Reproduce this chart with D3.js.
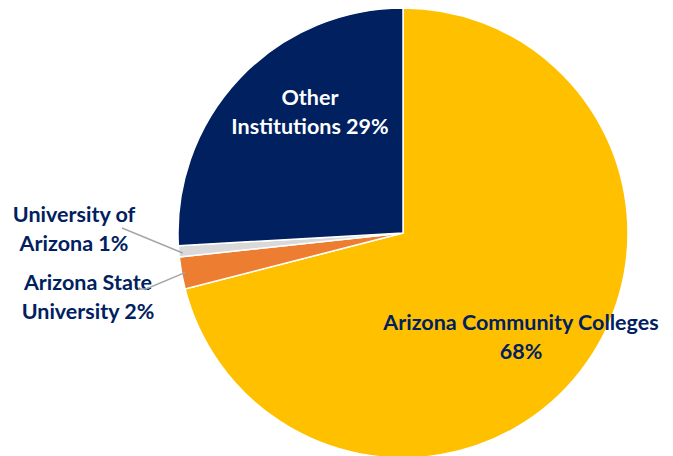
<!DOCTYPE html>
<html lang="en">
<head>
  <meta charset="UTF-8">
  <title>Enrollment Share</title>
  <script src="https://d3js.org/d3.v7.min.js"></script>
  <style>
    body { margin: 0; background: #fff; }
    .lbl { font-family: Lato, "Open Sans", sans-serif; font-weight: bold; font-size: 21.5px; text-anchor: middle; }
    .leader { fill: none; stroke: #a6a6a6; stroke-width: 1.5px; }
  </style>
</head>
<body>
  <svg width="673" height="456"></svg>
  <script>
    // slice order clockwise from 12 o'clock
    const names = ["Arizona Community Colleges", "Arizona State University", "University of Arizona", "Other Institutions"];
    const shares = [71.0, 2.3, 0.8, 25.9];   // slice sizes as drawn
    const labels = [["Arizona Community Colleges", "68%"], ["Arizona State", "University 2%"], ["University of", "Arizona 1%"], ["Other", "Institutions 29%"]];
    const colors = ["#ffc000", "#ed7d31", "#d9d9d9", "#002060"];
    const textColors = ["#002060", "#002060", "#002060", "#ffffff"];

    const cx = 403, cy = 233, r = 225;
    const svg = d3.select("svg");
    const g = svg.append("g").attr("transform", `translate(${cx},${cy})`);

    const pie = d3.pie().sort(null).value(d => d);
    const arcs = pie(shares);
    const arc = d3.arc().innerRadius(0).outerRadius(r);

    g.selectAll("path.slice")
      .data(arcs)
      .enter().append("path")
      .attr("class", "slice")
      .attr("d", arc)
      .attr("fill", (d, i) => colors[i])
      .attr("stroke", "#fff")
      .attr("stroke-width", 1.5);

    // label anchor points (centre of text block, page coords)
    const labelPos = [[521, 337], [88, 297], [74, 229], [310, 112]];
    const lineGap = 29;

    labels.forEach((lines, i) => {
      const t = svg.append("text")
        .attr("class", "lbl")
        .attr("fill", textColors[i])
        .attr("x", labelPos[i][0])
        .attr("y", labelPos[i][1] - lineGap / 2 + 7);
      lines.forEach((s, j) => {
        t.append("tspan")
          .attr("x", labelPos[i][0])
          .attr("dy", j === 0 ? 0 : lineGap)
          .text(s);
      });
    });

    // leader lines for the two thin slices
    const edge = d3.arc().innerRadius(r - 4).outerRadius(r - 4);
    const pASU = edge.centroid(arcs[1]);
    const pUA = edge.centroid(arcs[2]);
    svg.append("path").attr("class", "leader")
      .attr("d", d3.line()([[138, 289], [146, 289], [cx + pASU[0], cy + pASU[1]]]));
    svg.append("path").attr("class", "leader")
      .attr("d", d3.line()([[122, 228], [cx + pUA[0], cy + pUA[1] + 2]]));
  </script>
</body>
</html>
